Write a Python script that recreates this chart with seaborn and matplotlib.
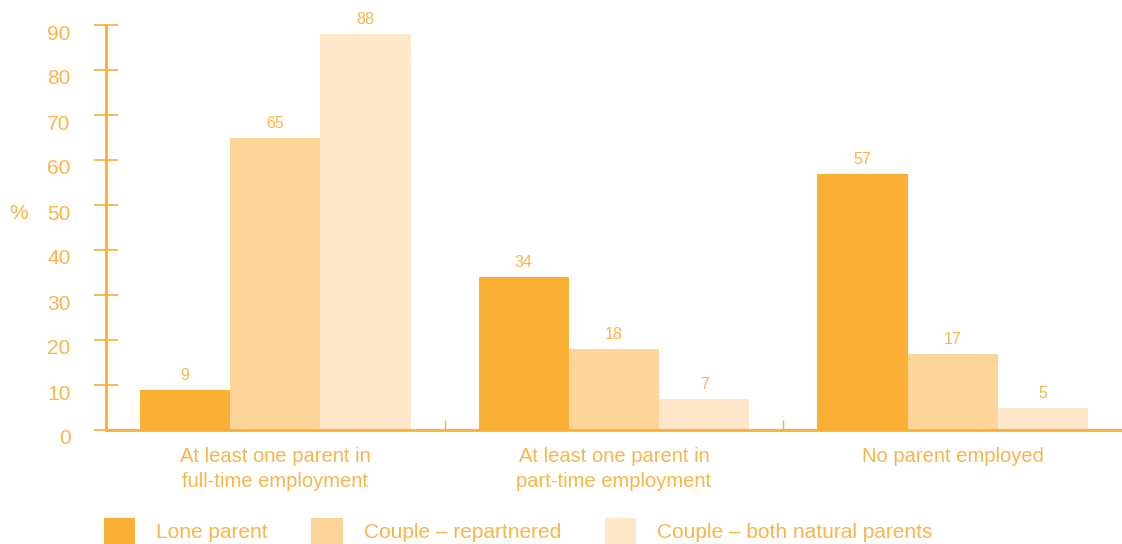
import matplotlib
matplotlib.use("Agg")
import matplotlib.pyplot as plt
from matplotlib.patches import Patch
from matplotlib.transforms import ScaledTranslation
import seaborn as sns
import pandas as pd

categories = ["At least one parent in\nfull-time employment",
              "At least one parent in\npart-time employment",
              "No parent employed"]
series = ["Lone parent", "Couple \u2013 repartnered", "Couple \u2013 both natural parents"]
lone_parent = [9, 34, 57]
couple_repartnered = [65, 18, 17]
couple_natural = [88, 7, 5]
y_ticks = [0, 10, 20, 30, 40, 50, 60, 70, 80, 90]

colors = ["#F9B035", "#FDD598", "#FEE7C8"]
text_color = "#F9B54A"
axis_color = "#F9B035"

rows = []
for name, vals in zip(series, [lone_parent, couple_repartnered, couple_natural]):
    for cat, v in zip(categories, vals):
        rows.append({"category": cat, "family": name, "value": v})
df = pd.DataFrame(rows)

sns.set_theme(style="white")
plt.rcParams["font.family"] = ["Liberation Sans", "DejaVu Sans"]

fig = plt.figure(figsize=(11.22, 5.44), dpi=100)
ax = fig.add_axes([106 / 1122, 114 / 544, 1 - 106 / 1122, (430 - 25) / 544])

sns.barplot(data=df, x="category", y="value", hue="family", order=categories,
            hue_order=series, palette=colors, width=0.8, saturation=1,
            edgecolor="none", linewidth=0, legend=False, ax=ax)

for container in ax.containers:
    ax.bar_label(container, fmt="%g", padding=5, color=text_color, fontsize=11.5)

ax.set_xlim(-0.5, 2.5)
ax.set_ylim(0, 90)
ax.set_yticks(y_ticks)
ax.set_xlabel("")
ax.set_ylabel("%", rotation=0, color=text_color, fontsize=15)
ax.yaxis.set_label_coords(-87 / 1016, 0.51)

for side in ["top", "right"]:
    ax.spines[side].set_visible(False)
for side in ["left", "bottom"]:
    ax.spines[side].set_color(axis_color)
    ax.spines[side].set_linewidth(2)

ax.tick_params(axis="y", direction="inout", length=17, width=1.2, color=axis_color,
               labelcolor=text_color, labelsize=15, pad=17, left=True)
ax.tick_params(axis="x", which="major", length=0, labelcolor=text_color,
               labelsize=14.5, pad=12)
ax.set_xticks([0.5, 1.5], minor=True)
ax.tick_params(axis="x", which="minor", direction="in", length=7, width=1,
               color=axis_color, bottom=True)

# y tick labels sit a little below their tick marks
shift = ScaledTranslation(0, -7 / 100, fig.dpi_scale_trans)
for lab in ax.get_yticklabels():
    lab.set_transform(lab.get_transform() + shift)
for lab in ax.get_xticklabels():
    lab.set_linespacing(1.4)

handles = [Patch(facecolor=c, edgecolor="none") for c in colors]
leg = fig.legend(handles, series, loc="lower left", bbox_to_anchor=(104 / 1122, 0.0),
                 ncol=3, frameon=False, fontsize=15, handlelength=1.5,
                 handleheight=1.54, handletextpad=1.0, columnspacing=2.1,
                 borderaxespad=0, borderpad=0)
for t in leg.get_texts():
    t.set_color(text_color)

fig.savefig("out.png", dpi=100)
